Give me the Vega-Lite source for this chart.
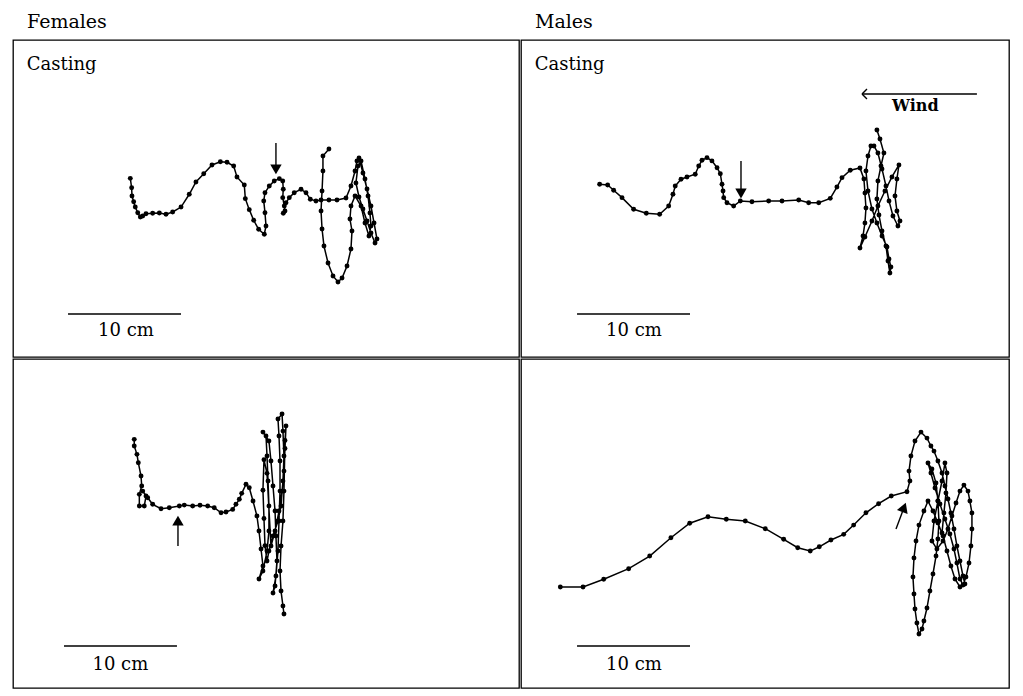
{
"$schema": "https://vega.github.io/schema/vega-lite/v6.json",
"background": "white",
"padding": {"left": 12, "top": 12, "right": 0, "bottom": 0},
"spacing": 0,
"datasets": {
"tracks": [
{"panel":"TL","seq":1,"x":10.38,"y":15.81},{"panel":"TL","seq":2,"x":10.50,"y":14.98},{"panel":"TL","seq":3,"x":10.53,"y":14.25},{"panel":"TL","seq":4,"x":10.68,"y":13.74},{"panel":"TL","seq":5,"x":10.82,"y":13.27},{"panel":"TL","seq":6,"x":11.04,"y":12.77},{"panel":"TL","seq":7,"x":11.27,"y":12.39},{"panel":"TL","seq":8,"x":11.48,"y":12.48},{"panel":"TL","seq":9,"x":11.77,"y":12.68},{"panel":"TL","seq":10,"x":12.36,"y":12.72},{"panel":"TL","seq":11,"x":12.95,"y":12.74},{"panel":"TL","seq":12,"x":13.54,"y":12.63},{"panel":"TL","seq":13,"x":14.13,"y":12.83},{"panel":"TL","seq":14,"x":14.87,"y":13.27},{"panel":"TL","seq":15,"x":15.60,"y":14.40},{"panel":"TL","seq":16,"x":16.19,"y":15.49},{"panel":"TL","seq":17,"x":16.88,"y":16.22},{"panel":"TL","seq":18,"x":17.61,"y":16.99},{"panel":"TL","seq":19,"x":18.35,"y":17.28},{"panel":"TL","seq":20,"x":18.94,"y":17.23},{"panel":"TL","seq":21,"x":19.53,"y":16.90},{"panel":"TL","seq":22,"x":19.82,"y":15.93},{"panel":"TL","seq":23,"x":20.47,"y":15.22},{"panel":"TL","seq":24,"x":20.56,"y":14.01},{"panel":"TL","seq":25,"x":20.91,"y":13.04},{"panel":"TL","seq":26,"x":21.30,"y":12.10},{"panel":"TL","seq":27,"x":21.74,"y":11.30},{"panel":"TL","seq":28,"x":22.24,"y":10.86},{"panel":"TL","seq":29,"x":22.39,"y":11.59},{"panel":"TL","seq":30,"x":22.30,"y":12.77},{"panel":"TL","seq":31,"x":22.19,"y":13.81},{"panel":"TL","seq":32,"x":22.30,"y":14.54},{"panel":"TL","seq":33,"x":22.68,"y":15.13},{"panel":"TL","seq":34,"x":23.12,"y":15.58},{"panel":"TL","seq":35,"x":23.57,"y":15.78},{"panel":"TL","seq":36,"x":23.87,"y":15.58},{"panel":"TL","seq":37,"x":23.92,"y":14.84},{"panel":"TL","seq":38,"x":23.87,"y":14.10},{"panel":"TL","seq":39,"x":24.01,"y":13.36},{"panel":"TL","seq":40,"x":24.07,"y":12.92},{"panel":"TL","seq":41,"x":23.92,"y":12.72},{"panel":"TL","seq":42,"x":24.16,"y":13.65},{"panel":"TL","seq":43,"x":24.45,"y":14.10},{"panel":"TL","seq":44,"x":24.89,"y":14.54},{"panel":"TL","seq":45,"x":25.49,"y":14.84},{"panel":"TL","seq":46,"x":25.93,"y":14.54},{"panel":"TL","seq":47,"x":26.31,"y":13.96},{"panel":"TL","seq":48,"x":26.81,"y":13.81},{"panel":"TL","seq":49,"x":27.26,"y":13.89},{"panel":"TL","seq":50,"x":27.96,"y":13.89},{"panel":"TL","seq":51,"x":28.67,"y":13.89},{"panel":"TL","seq":52,"x":29.47,"y":14.07},{"panel":"TL","seq":53,"x":29.91,"y":15.13},{"panel":"TL","seq":54,"x":30.27,"y":16.46},{"panel":"TL","seq":55,"x":30.44,"y":17.35},{"panel":"TL","seq":56,"x":30.62,"y":17.61},{"panel":"TL","seq":57,"x":30.97,"y":16.28},{"panel":"TL","seq":58,"x":31.33,"y":14.87},{"panel":"TL","seq":59,"x":31.68,"y":13.36},{"panel":"TL","seq":60,"x":31.95,"y":11.86},{"panel":"TL","seq":61,"x":32.21,"y":10.44},{"panel":"TL","seq":62,"x":32.04,"y":10.09},{"panel":"TL","seq":63,"x":31.68,"y":10.97},{"panel":"TL","seq":64,"x":31.33,"y":12.04},{"panel":"TL","seq":65,"x":30.97,"y":13.10},{"panel":"TL","seq":66,"x":30.62,"y":14.16},{"panel":"TL","seq":67,"x":30.35,"y":15.40},{"panel":"TL","seq":68,"x":30.53,"y":16.90},{"panel":"TL","seq":69,"x":30.80,"y":17.35},{"panel":"TL","seq":70,"x":31.15,"y":15.75},{"panel":"TL","seq":71,"x":31.42,"y":14.25},{"panel":"TL","seq":72,"x":31.59,"y":12.74},{"panel":"TL","seq":73,"x":31.68,"y":11.59},{"panel":"TL","seq":74,"x":31.50,"y":10.71},{"panel":"TL","seq":75,"x":31.15,"y":11.86},{"panel":"TL","seq":76,"x":30.80,"y":13.36},{"panel":"TL","seq":77,"x":30.27,"y":14.25},{"panel":"TL","seq":78,"x":29.91,"y":13.36},{"panel":"TL","seq":79,"x":29.82,"y":12.21},{"panel":"TL","seq":80,"x":30.00,"y":11.15},{"panel":"TL","seq":81,"x":29.91,"y":9.56},{"panel":"TL","seq":82,"x":29.56,"y":8.05},{"panel":"TL","seq":83,"x":29.12,"y":6.99},{"panel":"TL","seq":84,"x":28.76,"y":6.64},{"panel":"TL","seq":85,"x":28.32,"y":7.17},{"panel":"TL","seq":86,"x":27.88,"y":8.32},{"panel":"TL","seq":87,"x":27.52,"y":9.82},{"panel":"TL","seq":88,"x":27.35,"y":11.33},{"panel":"TL","seq":89,"x":27.26,"y":12.92},{"panel":"TL","seq":90,"x":27.35,"y":14.69},{"panel":"TL","seq":91,"x":27.43,"y":16.46},{"panel":"TL","seq":92,"x":27.43,"y":17.79},{"panel":"TL","seq":93,"x":27.96,"y":18.41},
{"panel":"TR","seq":1,"x":6.96,"y":15.28},{"panel":"TR","seq":2,"x":7.67,"y":15.22},{"panel":"TR","seq":3,"x":8.20,"y":14.75},{"panel":"TR","seq":4,"x":8.94,"y":14.10},{"panel":"TR","seq":5,"x":9.97,"y":13.07},{"panel":"TR","seq":6,"x":11.09,"y":12.72},{"panel":"TR","seq":7,"x":12.27,"y":12.63},{"panel":"TR","seq":8,"x":13.07,"y":13.36},{"panel":"TR","seq":9,"x":13.45,"y":14.40},{"panel":"TR","seq":10,"x":13.65,"y":15.13},{"panel":"TR","seq":11,"x":14.16,"y":15.73},{"panel":"TR","seq":12,"x":14.69,"y":15.93},{"panel":"TR","seq":13,"x":15.42,"y":16.17},{"panel":"TR","seq":14,"x":15.73,"y":16.90},{"panel":"TR","seq":15,"x":16.02,"y":17.41},{"panel":"TR","seq":16,"x":16.46,"y":17.64},{"panel":"TR","seq":17,"x":16.90,"y":17.35},{"panel":"TR","seq":18,"x":17.35,"y":16.75},{"panel":"TR","seq":19,"x":17.64,"y":16.22},{"panel":"TR","seq":20,"x":17.79,"y":15.28},{"panel":"TR","seq":21,"x":17.88,"y":14.69},{"panel":"TR","seq":22,"x":17.94,"y":14.10},{"panel":"TR","seq":23,"x":18.23,"y":13.65},{"panel":"TR","seq":24,"x":18.82,"y":13.36},{"panel":"TR","seq":25,"x":19.41,"y":13.81},{"panel":"TR","seq":26,"x":20.44,"y":13.74},{"panel":"TR","seq":27,"x":21.92,"y":13.81},{"panel":"TR","seq":28,"x":23.10,"y":13.81},{"panel":"TR","seq":29,"x":24.58,"y":13.89},{"panel":"TR","seq":30,"x":25.46,"y":13.65},{"panel":"TR","seq":31,"x":26.35,"y":13.65},{"panel":"TR","seq":32,"x":27.37,"y":14.04},{"panel":"TR","seq":33,"x":27.96,"y":15.04},{"panel":"TR","seq":34,"x":28.41,"y":15.87},{"panel":"TR","seq":35,"x":29.14,"y":16.52},{"panel":"TR","seq":36,"x":30.00,"y":16.73},{"panel":"TR","seq":37,"x":30.35,"y":15.75},{"panel":"TR","seq":38,"x":30.44,"y":14.51},{"panel":"TR","seq":39,"x":30.53,"y":13.19},{"panel":"TR","seq":40,"x":30.44,"y":11.86},{"panel":"TR","seq":41,"x":30.27,"y":10.71},{"panel":"TR","seq":42,"x":30.00,"y":9.65},{"panel":"TR","seq":43,"x":30.44,"y":10.62},{"panel":"TR","seq":44,"x":31.06,"y":12.04},{"panel":"TR","seq":45,"x":31.59,"y":13.36},{"panel":"TR","seq":46,"x":32.21,"y":14.69},{"panel":"TR","seq":47,"x":32.83,"y":15.93},{"panel":"TR","seq":48,"x":33.45,"y":16.99},{"panel":"TR","seq":49,"x":33.27,"y":15.75},{"panel":"TR","seq":50,"x":33.10,"y":14.25},{"panel":"TR","seq":51,"x":33.27,"y":12.92},{"panel":"TR","seq":52,"x":33.54,"y":12.04},{"panel":"TR","seq":53,"x":33.36,"y":11.59},{"panel":"TR","seq":54,"x":32.92,"y":12.48},{"panel":"TR","seq":55,"x":32.57,"y":13.81},{"panel":"TR","seq":56,"x":32.30,"y":15.13},{"panel":"TR","seq":57,"x":31.95,"y":16.64},{"panel":"TR","seq":58,"x":31.59,"y":18.05},{"panel":"TR","seq":59,"x":31.24,"y":18.67},{"panel":"TR","seq":60,"x":30.97,"y":18.67},{"panel":"TR","seq":61,"x":30.71,"y":17.79},{"panel":"TR","seq":62,"x":30.53,"y":16.46},{"panel":"TR","seq":63,"x":30.71,"y":14.69},{"panel":"TR","seq":64,"x":31.06,"y":13.10},{"panel":"TR","seq":65,"x":31.50,"y":11.86},{"panel":"TR","seq":66,"x":31.95,"y":10.71},{"panel":"TR","seq":67,"x":32.39,"y":9.73},{"panel":"TR","seq":68,"x":32.57,"y":8.67},{"panel":"TR","seq":69,"x":32.74,"y":7.96},{"panel":"TR","seq":70,"x":32.65,"y":7.43},{"panel":"TR","seq":71,"x":32.48,"y":8.50},{"panel":"TR","seq":72,"x":32.30,"y":9.82},{"panel":"TR","seq":73,"x":31.95,"y":11.15},{"panel":"TR","seq":74,"x":31.68,"y":12.57},{"panel":"TR","seq":75,"x":31.50,"y":13.98},{"panel":"TR","seq":76,"x":31.59,"y":15.58},{"panel":"TR","seq":77,"x":31.86,"y":16.90},{"panel":"TR","seq":78,"x":32.12,"y":18.05},{"panel":"TR","seq":79,"x":31.77,"y":19.29},{"panel":"TR","seq":80,"x":31.50,"y":20.09},
{"panel":"BL","seq":1,"x":10.73,"y":22.01},{"panel":"BL","seq":2,"x":10.73,"y":21.42},{"panel":"BL","seq":3,"x":10.97,"y":20.68},{"panel":"BL","seq":4,"x":11.09,"y":19.94},{"panel":"BL","seq":5,"x":11.33,"y":18.76},{"panel":"BL","seq":6,"x":11.39,"y":17.88},{"panel":"BL","seq":7,"x":11.18,"y":17.14},{"panel":"BL","seq":8,"x":11.18,"y":16.11},{"panel":"BL","seq":9,"x":11.62,"y":16.11},{"panel":"BL","seq":10,"x":11.77,"y":16.99},{"panel":"BL","seq":11,"x":11.48,"y":17.43},{"panel":"BL","seq":12,"x":11.92,"y":16.84},{"panel":"BL","seq":13,"x":12.36,"y":16.26},{"panel":"BL","seq":14,"x":13.10,"y":15.87},{"panel":"BL","seq":15,"x":13.83,"y":15.96},{"panel":"BL","seq":16,"x":14.72,"y":16.11},{"panel":"BL","seq":17,"x":15.16,"y":16.19},{"panel":"BL","seq":18,"x":15.90,"y":16.11},{"panel":"BL","seq":19,"x":16.55,"y":16.17},{"panel":"BL","seq":20,"x":17.23,"y":16.11},{"panel":"BL","seq":21,"x":17.81,"y":15.96},{"panel":"BL","seq":22,"x":18.41,"y":15.51},{"panel":"BL","seq":23,"x":18.85,"y":15.58},{"panel":"BL","seq":24,"x":19.44,"y":15.81},{"panel":"BL","seq":25,"x":19.73,"y":16.26},{"panel":"BL","seq":26,"x":20.03,"y":16.70},{"panel":"BL","seq":27,"x":20.24,"y":17.23},{"panel":"BL","seq":28,"x":20.62,"y":18.03},{"panel":"BL","seq":29,"x":20.91,"y":17.73},{"panel":"BL","seq":30,"x":21.24,"y":16.55},{"panel":"BL","seq":31,"x":21.59,"y":15.22},{"panel":"BL","seq":32,"x":21.77,"y":13.89},{"panel":"BL","seq":33,"x":21.95,"y":12.30},{"panel":"BL","seq":34,"x":22.12,"y":10.80},{"panel":"BL","seq":35,"x":21.77,"y":9.65},{"panel":"BL","seq":36,"x":22.12,"y":10.35},{"panel":"BL","seq":37,"x":22.48,"y":12.12},{"panel":"BL","seq":38,"x":22.65,"y":13.89},{"panel":"BL","seq":39,"x":22.65,"y":16.11},{"panel":"BL","seq":40,"x":22.57,"y":18.32},{"panel":"BL","seq":41,"x":22.48,"y":20.53},{"panel":"BL","seq":42,"x":22.39,"y":22.30},{"panel":"BL","seq":43,"x":22.12,"y":22.65},{"panel":"BL","seq":44,"x":22.65,"y":21.86},{"panel":"BL","seq":45,"x":22.83,"y":20.09},{"panel":"BL","seq":46,"x":23.01,"y":17.88},{"panel":"BL","seq":47,"x":23.19,"y":15.66},{"panel":"BL","seq":48,"x":23.27,"y":13.45},{"panel":"BL","seq":49,"x":23.36,"y":11.24},{"panel":"BL","seq":50,"x":23.19,"y":9.03},{"panel":"BL","seq":51,"x":23.01,"y":8.41},{"panel":"BL","seq":52,"x":23.27,"y":9.91},{"panel":"BL","seq":53,"x":23.45,"y":12.12},{"panel":"BL","seq":54,"x":23.54,"y":14.78},{"panel":"BL","seq":55,"x":23.63,"y":17.43},{"panel":"BL","seq":56,"x":23.63,"y":20.09},{"panel":"BL","seq":57,"x":23.54,"y":22.30},{"panel":"BL","seq":58,"x":23.45,"y":23.81},{"panel":"BL","seq":59,"x":23.81,"y":24.25},{"panel":"BL","seq":60,"x":23.89,"y":22.74},{"panel":"BL","seq":61,"x":23.98,"y":20.53},{"panel":"BL","seq":62,"x":23.89,"y":18.32},{"panel":"BL","seq":63,"x":23.72,"y":16.11},{"panel":"BL","seq":64,"x":23.45,"y":14.78},{"panel":"BL","seq":65,"x":23.01,"y":13.45},{"panel":"BL","seq":66,"x":22.65,"y":12.12},{"panel":"BL","seq":67,"x":22.48,"y":11.24},{"panel":"BL","seq":67.2,"x":22.30,"y":12.60},{"panel":"BL","seq":67.4,"x":22.21,"y":15.00},{"panel":"BL","seq":67.6,"x":22.12,"y":17.50},{"panel":"BL","seq":67.8,"x":22.21,"y":20.20},{"panel":"BL","seq":67.9,"x":22.48,"y":19.00},{"panel":"BL","seq":68,"x":22.83,"y":12.57},{"panel":"BL","seq":69,"x":23.19,"y":13.89},{"panel":"BL","seq":70,"x":23.54,"y":15.66},{"panel":"BL","seq":71,"x":23.81,"y":17.43},{"panel":"BL","seq":72,"x":23.98,"y":19.20},{"panel":"BL","seq":72.3,"x":24.07,"y":21.20},{"panel":"BL","seq":72.6,"x":24.16,"y":23.20},{"panel":"BL","seq":72.8,"x":24.07,"y":21.90},{"panel":"BL","seq":73,"x":23.98,"y":17.43},{"panel":"BL","seq":74,"x":23.89,"y":14.78},{"panel":"BL","seq":75,"x":23.72,"y":12.57},{"panel":"BL","seq":76,"x":23.63,"y":10.35},{"panel":"BL","seq":77,"x":23.72,"y":8.58},{"panel":"BL","seq":78,"x":23.89,"y":7.26},{"panel":"BL","seq":79,"x":23.98,"y":6.55},
{"panel":"BR","seq":1,"x":3.48,"y":8.94},{"panel":"BR","seq":2,"x":5.49,"y":8.94},{"panel":"BR","seq":3,"x":7.32,"y":9.62},{"panel":"BR","seq":4,"x":9.53,"y":10.56},{"panel":"BR","seq":5,"x":11.39,"y":11.68},{"panel":"BR","seq":6,"x":13.27,"y":13.30},{"panel":"BR","seq":7,"x":14.93,"y":14.58},{"panel":"BR","seq":8,"x":16.55,"y":15.16},{"panel":"BR","seq":9,"x":18.17,"y":14.93},{"panel":"BR","seq":10,"x":19.85,"y":14.78},{"panel":"BR","seq":11,"x":21.62,"y":14.10},{"panel":"BR","seq":12,"x":23.25,"y":13.16},{"panel":"BR","seq":13,"x":24.49,"y":12.42},{"panel":"BR","seq":14,"x":25.60,"y":12.12},{"panel":"BR","seq":15,"x":26.40,"y":12.50},{"panel":"BR","seq":16,"x":27.43,"y":13.10},{"panel":"BR","seq":17,"x":28.56,"y":13.60},{"panel":"BR","seq":18,"x":29.44,"y":14.42},{"panel":"BR","seq":19,"x":30.53,"y":15.51},{"panel":"BR","seq":20,"x":31.65,"y":16.31},{"panel":"BR","seq":21,"x":32.77,"y":16.99},{"panel":"BR","seq":22,"x":34.16,"y":17.37},{"panel":"BR","seq":23,"x":34.42,"y":18.32},{"panel":"BR","seq":24,"x":34.34,"y":19.20},{"panel":"BR","seq":25,"x":34.51,"y":20.53},{"panel":"BR","seq":26,"x":34.87,"y":21.86},{"panel":"BR","seq":27,"x":35.40,"y":22.65},{"panel":"BR","seq":28,"x":35.93,"y":22.12},{"panel":"BR","seq":29,"x":36.28,"y":21.42},{"panel":"BR","seq":30,"x":36.55,"y":20.97},{"panel":"BR","seq":31,"x":36.90,"y":20.09},{"panel":"BR","seq":32,"x":37.26,"y":19.03},{"panel":"BR","seq":33,"x":37.52,"y":17.88},{"panel":"BR","seq":34,"x":37.79,"y":16.73},{"panel":"BR","seq":35,"x":38.05,"y":15.49},{"panel":"BR","seq":36,"x":38.32,"y":14.07},{"panel":"BR","seq":37,"x":38.58,"y":12.57},{"panel":"BR","seq":38,"x":38.85,"y":11.24},{"panel":"BR","seq":39,"x":39.12,"y":9.91},{"panel":"BR","seq":40,"x":39.29,"y":9.20},{"panel":"BR","seq":41,"x":38.85,"y":8.94},{"panel":"BR","seq":42,"x":38.41,"y":9.65},{"panel":"BR","seq":43,"x":38.05,"y":10.80},{"panel":"BR","seq":44,"x":37.70,"y":12.12},{"panel":"BR","seq":45,"x":37.35,"y":13.45},{"panel":"BR","seq":46,"x":36.90,"y":14.60},{"panel":"BR","seq":47,"x":36.46,"y":15.66},{"panel":"BR","seq":48,"x":36.02,"y":16.55},{"panel":"BR","seq":49,"x":35.66,"y":15.66},{"panel":"BR","seq":50,"x":35.22,"y":14.42},{"panel":"BR","seq":51,"x":34.96,"y":13.01},{"panel":"BR","seq":52,"x":34.78,"y":11.50},{"panel":"BR","seq":53,"x":34.69,"y":9.82},{"panel":"BR","seq":54,"x":34.78,"y":8.32},{"panel":"BR","seq":55,"x":34.87,"y":6.99},{"panel":"BR","seq":56,"x":35.04,"y":5.75},{"panel":"BR","seq":57,"x":35.22,"y":4.78},{"panel":"BR","seq":58,"x":35.49,"y":5.22},{"panel":"BR","seq":59,"x":35.66,"y":5.93},{"panel":"BR","seq":60,"x":35.93,"y":7.08},{"panel":"BR","seq":61,"x":36.19,"y":8.58},{"panel":"BR","seq":62,"x":36.46,"y":10.09},{"panel":"BR","seq":63,"x":36.73,"y":11.68},{"panel":"BR","seq":64,"x":36.90,"y":13.19},{"panel":"BR","seq":65,"x":36.99,"y":14.78},{"panel":"BR","seq":66,"x":36.90,"y":16.55},{"panel":"BR","seq":67,"x":36.73,"y":18.14},{"panel":"BR","seq":68,"x":36.37,"y":19.38},{"panel":"BR","seq":69,"x":36.02,"y":19.91},{"panel":"BR","seq":70,"x":36.28,"y":19.03},{"panel":"BR","seq":71,"x":36.64,"y":17.70},{"panel":"BR","seq":72,"x":37.08,"y":16.28},{"panel":"BR","seq":73,"x":37.52,"y":14.96},{"panel":"BR","seq":74,"x":37.96,"y":13.63},{"panel":"BR","seq":75,"x":38.32,"y":12.30},{"panel":"BR","seq":76,"x":38.58,"y":11.06},{"panel":"BR","seq":77,"x":38.85,"y":9.65},{"panel":"BR","seq":78,"x":39.12,"y":9.12},{"panel":"BR","seq":79,"x":39.38,"y":9.82},{"panel":"BR","seq":80,"x":39.65,"y":11.06},{"panel":"BR","seq":81,"x":39.82,"y":12.57},{"panel":"BR","seq":82,"x":39.91,"y":14.07},{"panel":"BR","seq":83,"x":39.91,"y":15.49},{"panel":"BR","seq":84,"x":39.73,"y":16.55},{"panel":"BR","seq":85,"x":39.56,"y":17.43},{"panel":"BR","seq":86,"x":39.20,"y":17.96},{"panel":"BR","seq":87,"x":38.85,"y":17.43},{"panel":"BR","seq":88,"x":38.50,"y":16.37},{"panel":"BR","seq":89,"x":38.14,"y":15.22},{"panel":"BR","seq":90,"x":37.79,"y":14.07},{"panel":"BR","seq":91,"x":37.35,"y":13.01},{"panel":"BR","seq":92,"x":36.81,"y":12.30},{"panel":"BR","seq":93,"x":36.37,"y":13.01},{"panel":"BR","seq":94,"x":36.55,"y":14.78},{"panel":"BR","seq":95,"x":36.90,"y":16.55},{"panel":"BR","seq":96,"x":37.26,"y":18.32},{"panel":"BR","seq":97,"x":37.52,"y":19.91},{"panel":"BR","seq":98,"x":37.70,"y":19.03},{"panel":"BR","seq":99,"x":37.61,"y":17.26},{"panel":"BR","seq":100,"x":37.43,"y":15.49},{"panel":"BR","seq":101,"x":37.26,"y":13.72}
],
"segments": [
{"panel":"TL","x":4.87,"y":3.8,"x2":14.87,"y2":3.8},
{"panel":"TR","x":4.96,"y":3.8,"x2":14.96,"y2":3.8},
{"panel":"BL","x":4.51,"y":3.72,"x2":14.51,"y2":3.72},
{"panel":"BR","x":4.96,"y":3.72,"x2":14.96,"y2":3.72},
{"panel":"TL","x":23.27,"y":18.94,"x2":23.27,"y2":16.8},
{"panel":"TR","x":19.47,"y":17.35,"x2":19.47,"y2":14.7},
{"panel":"BL","x":14.6,"y":12.57,"x2":14.6,"y2":14.6},
{"panel":"BR","x":33.19,"y":14.07,"x2":33.8,"y2":15.7},
{"panel":"TR","x":30.18,"y":23.27,"x2":40.35,"y2":23.27},
{"panel":"TR","x":30.18,"y":23.27,"x2":30.62,"y2":23.71},
{"panel":"TR","x":30.18,"y":23.27,"x2":30.62,"y2":22.83}
],
"heads": [
{"panel":"TL","x":23.27,"y":16.6,"angle":180},
{"panel":"TR","x":19.47,"y":14.47,"angle":180},
{"panel":"BL","x":14.6,"y":14.82,"angle":0},
{"panel":"BR","x":33.9,"y":15.98,"angle":21}
],
"labels": [
{"panel":"TL","x":4.3,"y":25.4,"text":"Casting"},
{"panel":"TL","x":10.0,"y":1.86,"text":"10 cm"},
{"panel":"TR","x":4.3,"y":25.4,"text":"Casting"},
{"panel":"TR","x":10.0,"y":1.86,"text":"10 cm"},
{"panel":"TR","x":34.9,"y":21.8,"text":"Wind"},
{"panel":"BL","x":9.5,"y":1.6,"text":"10 cm"},
{"panel":"BR","x":10.0,"y":1.6,"text":"10 cm"}
]
},
"vconcat": [
{"spacing": 0, "hconcat": [
{"width": 506, "height": 317, "title": "Females",
 "encoding": {"x": {"field": "x", "type": "quantitative", "scale": {"domain": [0, 44.78], "nice": false, "zero": false}, "axis": null},
              "y": {"field": "y", "type": "quantitative", "scale": {"domain": [0, 28.05], "nice": false, "zero": false}, "axis": null}},
 "layer": [
  {"data": {"name": "tracks"}, "transform": [{"filter": "datum.panel === 'TL'"}], "mark": {"type": "line", "color": "black", "strokeWidth": 1.5, "point": {"filled": true, "size": 24, "color": "black"}}, "encoding": {"order": {"field": "seq", "type": "quantitative"}}},
  {"data": {"name": "segments"}, "transform": [{"filter": "datum.panel === 'TL'"}], "mark": {"type": "rule", "color": "black", "strokeWidth": 1.4}, "encoding": {"x2": {"field": "x2"}, "y2": {"field": "y2"}}},
  {"data": {"name": "heads"}, "transform": [{"filter": "datum.panel === 'TL'"}], "mark": {"type": "point", "shape": "triangle-up", "filled": true, "color": "black", "size": 130, "opacity": 1}, "encoding": {"angle": {"field": "angle", "type": "quantitative", "scale": null}}},
  {"data": {"name": "labels"}, "transform": [{"filter": "datum.panel === 'TL' && datum.text !== 'Wind'"}], "mark": {"type": "text", "font": "DejaVu Serif", "fontSize": 18, "color": "black", "align": "center", "baseline": "alphabetic"}, "encoding": {"text": {"field": "text"}}}
 ]},
{"width": 488, "height": 317, "title": "Males",
 "encoding": {"x": {"field": "x", "type": "quantitative", "scale": {"domain": [0, 43.19], "nice": false, "zero": false}, "axis": null},
              "y": {"field": "y", "type": "quantitative", "scale": {"domain": [0, 28.05], "nice": false, "zero": false}, "axis": null}},
 "layer": [
  {"data": {"name": "tracks"}, "transform": [{"filter": "datum.panel === 'TR'"}], "mark": {"type": "line", "color": "black", "strokeWidth": 1.5, "point": {"filled": true, "size": 24, "color": "black"}}, "encoding": {"order": {"field": "seq", "type": "quantitative"}}},
  {"data": {"name": "segments"}, "transform": [{"filter": "datum.panel === 'TR'"}], "mark": {"type": "rule", "color": "black", "strokeWidth": 1.4}, "encoding": {"x2": {"field": "x2"}, "y2": {"field": "y2"}}},
  {"data": {"name": "heads"}, "transform": [{"filter": "datum.panel === 'TR'"}], "mark": {"type": "point", "shape": "triangle-up", "filled": true, "color": "black", "size": 130, "opacity": 1}, "encoding": {"angle": {"field": "angle", "type": "quantitative", "scale": null}}},
  {"data": {"name": "labels"}, "transform": [{"filter": "datum.panel === 'TR' && datum.text !== 'Wind'"}], "mark": {"type": "text", "font": "DejaVu Serif", "fontSize": 18, "color": "black", "align": "center", "baseline": "alphabetic"}, "encoding": {"text": {"field": "text"}}},
  {"data": {"name": "labels"}, "transform": [{"filter": "datum.panel === 'TR' && datum.text === 'Wind'"}], "mark": {"type": "text", "font": "DejaVu Serif", "fontSize": 16, "fontWeight": "bold", "color": "black", "align": "center", "baseline": "alphabetic"}, "encoding": {"text": {"field": "text"}}}
 ]}
]},
{"spacing": 0, "hconcat": [
{"width": 506, "height": 329,
 "encoding": {"x": {"field": "x", "type": "quantitative", "scale": {"domain": [0, 44.78], "nice": false, "zero": false}, "axis": null},
              "y": {"field": "y", "type": "quantitative", "scale": {"domain": [0, 29.12], "nice": false, "zero": false}, "axis": null}},
 "layer": [
  {"data": {"name": "tracks"}, "transform": [{"filter": "datum.panel === 'BL'"}], "mark": {"type": "line", "color": "black", "strokeWidth": 1.5, "point": {"filled": true, "size": 24, "color": "black"}}, "encoding": {"order": {"field": "seq", "type": "quantitative"}}},
  {"data": {"name": "segments"}, "transform": [{"filter": "datum.panel === 'BL'"}], "mark": {"type": "rule", "color": "black", "strokeWidth": 1.4}, "encoding": {"x2": {"field": "x2"}, "y2": {"field": "y2"}}},
  {"data": {"name": "heads"}, "transform": [{"filter": "datum.panel === 'BL'"}], "mark": {"type": "point", "shape": "triangle-up", "filled": true, "color": "black", "size": 130, "opacity": 1}, "encoding": {"angle": {"field": "angle", "type": "quantitative", "scale": null}}},
  {"data": {"name": "labels"}, "transform": [{"filter": "datum.panel === 'BL'"}], "mark": {"type": "text", "font": "DejaVu Serif", "fontSize": 18, "color": "black", "align": "center", "baseline": "alphabetic"}, "encoding": {"text": {"field": "text"}}}
 ]},
{"width": 488, "height": 329,
 "encoding": {"x": {"field": "x", "type": "quantitative", "scale": {"domain": [0, 43.19], "nice": false, "zero": false}, "axis": null},
              "y": {"field": "y", "type": "quantitative", "scale": {"domain": [0, 29.12], "nice": false, "zero": false}, "axis": null}},
 "layer": [
  {"data": {"name": "tracks"}, "transform": [{"filter": "datum.panel === 'BR'"}], "mark": {"type": "line", "color": "black", "strokeWidth": 1.5, "point": {"filled": true, "size": 24, "color": "black"}}, "encoding": {"order": {"field": "seq", "type": "quantitative"}}},
  {"data": {"name": "segments"}, "transform": [{"filter": "datum.panel === 'BR'"}], "mark": {"type": "rule", "color": "black", "strokeWidth": 1.4}, "encoding": {"x2": {"field": "x2"}, "y2": {"field": "y2"}}},
  {"data": {"name": "heads"}, "transform": [{"filter": "datum.panel === 'BR'"}], "mark": {"type": "point", "shape": "triangle-up", "filled": true, "color": "black", "size": 130, "opacity": 1}, "encoding": {"angle": {"field": "angle", "type": "quantitative", "scale": null}}},
  {"data": {"name": "labels"}, "transform": [{"filter": "datum.panel === 'BR'"}], "mark": {"type": "text", "font": "DejaVu Serif", "fontSize": 18, "color": "black", "align": "center", "baseline": "alphabetic"}, "encoding": {"text": {"field": "text"}}}
 ]}
]}
],
"config": {
 "view": {"stroke": "black", "strokeWidth": 1.3},
 "title": {"font": "DejaVu Serif", "fontSize": 19, "fontWeight": "normal", "color": "black", "anchor": "start", "dx": 14, "offset": 8, "baseline": "alphabetic"}
}
}
